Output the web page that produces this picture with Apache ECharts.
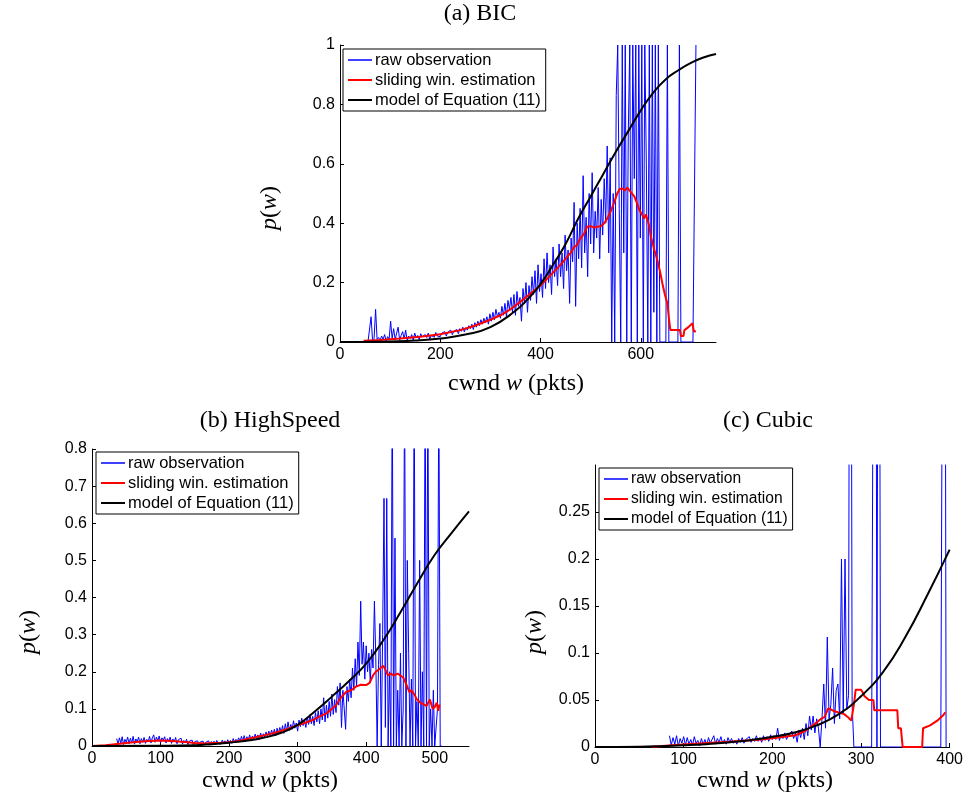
<!DOCTYPE html>
<html>
<head>
<meta charset="utf-8">
<script src="https://cdn.jsdelivr.net/npm/echarts@6/dist/echarts.min.js"></script>
<style>
  html, body { margin: 0; padding: 0; background: #fff; }
  #chart { width: 966px; height: 805px; }
</style>
</head>
<body>
<div id="chart"></div>
<script>
// ---------- (a) BIC ----------
// raw observation sampled every 3 packets starting at cwnd = 50
const bicRawStart = 50;
const bicRawStep = 3;
const bicRaw = [
  0.002,0.004,0.003,0.006,0.085,0.004,0.012,0.11,0.008,0.015,
  0.006,0.02,0.009,0.025,0.004,0.018,0.01,0.07,0.012,0.045,
  0.008,0.03,0.05,0.006,0.022,0.035,0.01,0.04,0.004,0.02,
  0.012,0.025,0.005,0.03,0.015,0.022,0.008,0.028,0.018,0.012,
  0.025,0.015,0.03,0.01,0.022,0.028,0.016,0.032,0.02,0.026,
  0.018,0.03,0.024,0.035,0.02,0.033,0.027,0.04,0.025,0.036,
  0.03,0.042,0.028,0.045,0.036,0.05,0.034,0.048,0.04,0.055,
  0.045,0.06,0.042,0.065,0.05,0.07,0.055,0.075,0.06,0.08,
  0.065,0.085,0.06,0.095,0.07,0.1,0.075,0.11,0.085,0.1,
  0.08,0.12,0.09,0.13,0.085,0.14,0.11,0.15,0.1,0.16,
  0.09,0.17,0.12,0.15,0.07,0.18,0.13,0.2,0.1,0.19,
  0.14,0.22,0.16,0.24,0.13,0.26,0.17,0.23,0.15,0.28,
  0.18,0.3,0.2,0.26,0.16,0.32,0.22,0.28,0.19,0.33,
  0.22,0.3,0.18,0.36,0.24,0.31,0.13,0.35,0.27,0.47,
  0.12,0.4,0.28,0.45,0.25,0.56,0.3,0.42,0.22,0.5,
  0.33,0.57,0.3,0.44,0.35,0.52,0.28,0.48,0.36,0.55,
  0.4,0.66,0.3,0.62,0,0.5,0,0.83,1,0.45,
  0,1,0.3,1,0,0.7,1,0,1,0.55,
  1,0,1,0.35,1,0,1,0.6,0,1,
  0,1,0.1,1,0,1,0,0,0,0,
  0,1,0,0,0,0,0,0,0,1,
  0,0,0,0,0,0,0,0,0,0,
  1
];
const bicWinX = [47,80,120,160,200,240,267,300,320,340,360,380,400,420,433,445,453,460,467,472,480,487,493,500,507,513,520,527,533,540,547,553,558,563,568,573,580,587,593,597,602,607,610,613,617,620,627,633,638,643,648,653,656,659,678,680,685,687,695,703,706,710];
const bicWinY = [0.004,0.007,0.012,0.018,0.026,0.04,0.054,0.075,0.09,0.11,0.136,0.163,0.19,0.225,0.248,0.27,0.287,0.3,0.32,0.325,0.35,0.365,0.388,0.39,0.385,0.388,0.39,0.4,0.416,0.44,0.47,0.5,0.515,0.517,0.51,0.52,0.505,0.49,0.465,0.445,0.43,0.416,0.43,0.425,0.39,0.355,0.31,0.276,0.24,0.198,0.16,0.13,0.08,0.04,0.04,0.02,0.02,0.04,0.05,0.063,0.035,0.036];
const bicModelX = [0,50,100,150,200,250,300,350,375,400,425,450,475,500,525,550,575,600,625,650,675,700,725,750];
const bicModelY = [0,0.0005,0.002,0.005,0.012,0.025,0.05,0.105,0.145,0.195,0.26,0.33,0.415,0.49,0.565,0.64,0.71,0.78,0.84,0.885,0.915,0.94,0.958,0.97];

// ---------- (b) HighSpeed ----------
const hsRawStart = 36;
const hsRawStep = 2;
const hsRaw = [
  0.02,0.005,0.022,0.008,0.025,0.004,0.018,0.01,0.024,0.006,
  0.021,0.008,0.026,0.005,0.019,0.012,0.024,0.006,0.02,0.01,
  0.023,0.007,0.018,0.012,0.026,0.008,0.022,0.03,0.01,0.024,
  0.014,0.027,0.009,0.022,0.016,0.025,0.008,0.02,0.012,0.024,
  0.007,0.019,0.011,0.023,0.006,0.017,0.012,0.021,0.005,0.015,
  0.009,0.018,0.004,0.013,0.008,0.016,0.003,0.012,0.007,0.014,
  0.004,0.011,0.006,0.013,0.003,0.01,0.005,0.014,0.004,0.012,
  0.006,0.013,0.004,0.015,0.007,0.012,0.005,0.016,0.008,0.014,
  0.006,0.017,0.009,0.015,0.007,0.02,0.01,0.018,0.012,0.022,
  0.012,0.026,0.014,0.028,0.013,0.025,0.016,0.03,0.015,0.027,
  0.018,0.032,0.02,0.03,0.017,0.035,0.022,0.033,0.024,0.038,
  0.026,0.04,0.028,0.043,0.03,0.045,0.027,0.048,0.033,0.05,
  0.036,0.055,0.034,0.06,0.04,0.065,0.042,0.058,0.045,0.068,
  0.048,0.062,0.04,0.07,0.052,0.075,0.055,0.068,0.05,0.078,
  0.058,0.085,0.06,0.08,0.055,0.09,0.065,0.095,0.06,0.1,
  0.07,0.13,0.065,0.11,0.075,0.12,0.08,0.14,0.085,0.125,
  0.09,0.16,0.11,0.17,0.05,0.15,0.1,0.045,0.16,0.12,
  0.18,0.13,0.21,0.15,0.235,0.16,0.28,0.19,0.39,0.22,
  0.28,0.18,0.27,0.2,0.25,0.17,0.26,0.21,0.39,0.24,
  0,0.22,0.33,0,0.3,0.667,0.05,0.667,0,0.2,
  0,1,0,0.56,0,0.15,0,0.25,0,0.1,
  1,0,0.5,0.25,0,0.18,0,1,0,0.12,
  0,0.5,0,0.2,0,1,0,1,0,0.1,
  0,0.15,0,0,0.1,1,0,0
];
const hsWinX = [0,20,40,60,78,97,110,126,140,150,165,176,190,198,212,225,240,254,265,273,285,298,310,322,332,342,350,356,362,368,371,378,385,392,400,405,410,414,418,422,425,428,432,436,440,446,450,454,459,463,466,471,474,476,480,483,488,493,497,500,503,505,507];
const hsWinY = [0,0.002,0.006,0.01,0.013,0.015,0.014,0.012,0.01,0.008,0.007,0.008,0.009,0.01,0.013,0.018,0.024,0.03,0.035,0.039,0.046,0.055,0.062,0.07,0.08,0.088,0.1,0.11,0.128,0.14,0.146,0.15,0.16,0.165,0.164,0.17,0.19,0.2,0.205,0.212,0.216,0.205,0.19,0.195,0.19,0.195,0.19,0.185,0.164,0.145,0.15,0.137,0.125,0.12,0.115,0.113,0.108,0.125,0.1,0.105,0.117,0.095,0.112];
const hsModelX = [0,100,150,175,200,225,250,275,300,325,350,375,400,425,450,475,500,525,550];
const hsModelY = [0,0.0005,0.002,0.005,0.009,0.014,0.022,0.035,0.057,0.093,0.133,0.175,0.222,0.285,0.36,0.44,0.515,0.575,0.632];

// ---------- (c) Cubic ----------
const cuRawStart = 84;
const cuRawStep = 2;
const cuRaw = [
  0.012,0.002,0.01,0.003,0.012,0.001,0.009,0.004,0.011,0.002,
  0.01,0.003,0.008,0.002,0.011,0.004,0.007,0.001,0.009,0.003,
  0.008,0.002,0.01,0.004,0.006,0.012,0.003,0.009,0.005,0.011,
  0.004,0.008,0.003,0.01,0.005,0.009,0.004,0.007,0.003,0.009,
  0.005,0.01,0.004,0.008,0.006,0.011,0.005,0.009,0.006,0.012,
  0.006,0.01,0.005,0.012,0.007,0.011,0.006,0.013,0.008,0.012,
  0.008,0.02,0.007,0.013,0.009,0.015,0.008,0.012,0.01,0.017,
  0.009,0.015,0.005,0.018,0.01,0.02,0.008,0.025,0.012,0.033,
  0.018,0.033,0.015,0.03,0.02,0,0.03,0.067,0.02,0.117,
  0.03,0.045,0.084,0.025,0.06,0.067,0.03,0.2,0.035,0.2,
  0.04,0.055,1,0.045,0,0,0,0,0,0,
  0,0,0,0,0,0,1,0,1,0,
  0,0,0,0,0,0,0,0,0,0,
  0,0,0,0,0,0,0,0,0,0,
  0,0,0,0,0,0,0,0,0,0,
  0,0,0,0,0,1,0
];
const cuWinX = [64,83,113,151,188,207,226,237,244,250,255,259,263,266,270,274,281,285,289,290,292,294,300,302,304,309,314,315,341,342,345,347,369,370,378,386,393,395];
const cuWinY = [0,0.0015,0.0035,0.0055,0.008,0.01,0.0125,0.017,0.022,0.026,0.03,0.032,0.041,0.04,0.038,0.037,0.035,0.032,0.028,0.026,0.045,0.061,0.061,0.058,0.054,0.05,0.05,0.039,0.039,0.02,0.02,0,0,0.02,0.023,0.028,0.034,0.037];
const cuModelX = [0,50,75,100,125,150,175,200,225,250,275,300,325,350,375,400];
const cuModelY = [0,0.0003,0.0009,0.0018,0.003,0.0048,0.0073,0.0108,0.0155,0.023,0.035,0.054,0.08,0.117,0.162,0.21];

const seriesNames = ['raw observation', 'sliding win. estimation', 'model of Equation (11)'];
// legend swatches: a thinner line for the raw trace, a thicker one for the others
const legendIcons = ['path://M0,0h32v2h-32z', 'path://M0,0h24v2h-24z', 'path://M0,0h24v2h-24z'];

function regularPairs(start, step, values) {
  return values.map((v, i) => [start + i * step, v]);
}
function zipPairs(xs, ys) {
  return xs.map((x, i) => [x, ys[i]]);
}

const panels = [
  { grid: { left: 340, top: 45, width: 376, height: 297 },
    xMax: 750, xTicks: [0, 200, 400, 600], yMax: 1, yTicks: [0, 0.2, 0.4, 0.6, 0.8, 1],
    raw: regularPairs(bicRawStart, bicRawStep, bicRaw),
    win: zipPairs(bicWinX, bicWinY), model: zipPairs(bicModelX, bicModelY),
    legend: { left: 343, top: 49, fontSize: 16.5 } },
  { grid: { left: 92, top: 449, width: 377, height: 297 },
    xMax: 550, xTicks: [0, 100, 200, 300, 400, 500], yMax: 0.8, yTicks: [0, 0.1, 0.2, 0.3, 0.4, 0.5, 0.6, 0.7, 0.8],
    raw: regularPairs(hsRawStart, hsRawStep, hsRaw),
    win: zipPairs(hsWinX, hsWinY), model: zipPairs(hsModelX, hsModelY),
    legend: { left: 96, top: 452, fontSize: 16.5 } },
  { grid: { left: 595, top: 465, width: 358, height: 282 },
    xMax: 400, xTicks: [0, 100, 200, 300, 400], yMax: 0.3, yTicks: [0, 0.05, 0.1, 0.15, 0.2, 0.25],
    raw: regularPairs(cuRawStart, cuRawStep, cuRaw),
    win: zipPairs(cuWinX, cuWinY), model: zipPairs(cuModelX, cuModelY),
    legend: { left: 599, top: 468, fontSize: 15.6 } }
];

const tickFont = { fontFamily: 'Liberation Sans', fontSize: 16, color: '#000' };
const axisLine = { show: true, onZero: false, lineStyle: { color: '#000', width: 1 } };

const option = {
  animation: false,
  backgroundColor: '#fff',
  grid: panels.map(p => Object.assign({ containLabel: false }, p.grid)),
  xAxis: panels.map((p, i) => ({
    type: 'value', gridIndex: i, min: 0, max: p.xMax,
    axisLine: axisLine,
    axisTick: { show: true, inside: true, length: 4, customValues: p.xTicks, lineStyle: { color: '#000' } },
    axisLabel: Object.assign({ margin: 5, customValues: p.xTicks }, tickFont),
    splitLine: { show: false }
  })),
  yAxis: panels.map((p, i) => ({
    type: 'value', gridIndex: i, min: 0, max: p.yMax,
    axisLine: axisLine,
    axisTick: { show: true, inside: true, length: 4, customValues: p.yTicks, lineStyle: { color: '#000' } },
    axisLabel: Object.assign({ margin: 5, customValues: p.yTicks }, tickFont),
    splitLine: { show: false }
  })),
  legend: panels.map(p => ({
    data: seriesNames.map((n, k) => ({ name: n, icon: legendIcons[k] })),
    orient: 'vertical', left: p.legend.left, top: p.legend.top,
    itemWidth: 24, itemHeight: 2, itemGap: 0, symbolKeepAspect: true,
    padding: [1, 5, 1, 5],
    borderColor: '#000', borderWidth: 1, borderRadius: 0, backgroundColor: '#fff',
    selectedMode: false,
    textStyle: { fontFamily: 'Liberation Sans', fontSize: p.legend.fontSize, color: '#000', lineHeight: 20, padding: [0, 0, 0, -2] }
  })),
  series: [].concat(...panels.map((p, i) => [
    { name: seriesNames[0], type: 'line', xAxisIndex: i, yAxisIndex: i, data: p.raw,
      symbol: 'none', clip: true, lineStyle: { color: '#0000ff', width: 1 }, itemStyle: { color: '#0000ff' }, z: 2 },
    { name: seriesNames[1], type: 'line', xAxisIndex: i, yAxisIndex: i, data: p.win,
      symbol: 'none', clip: true, lineStyle: { color: '#ff0000', width: 2 }, itemStyle: { color: '#ff0000' }, z: 3 },
    { name: seriesNames[2], type: 'line', xAxisIndex: i, yAxisIndex: i, data: p.model,
      symbol: 'none', smooth: true, clip: true, lineStyle: { color: '#000', width: 2 }, itemStyle: { color: '#000' }, z: 4 }
  ])),
  graphic: []
};

// titles and axis names (serif, with italic variables)
const serif = 'Liberation Serif';
const rich = {
  n: { fontFamily: serif, fontSize: 24, color: '#000' },
  i: { fontFamily: serif, fontSize: 24, fontStyle: 'italic', color: '#000' }
};
function label(x, y, text, rotation) {
  return {
    type: 'text', x: x, y: y, rotation: rotation || 0, z: 10,
    style: { text: text, rich: rich, align: 'center', verticalAlign: 'middle', fontFamily: serif, fontSize: 24, fill: '#000' }
  };
}
option.graphic = [
  label(480, 14, '{n|(a) BIC}'),
  label(516, 384, '{n|cwnd }{i|w}{n| (pkts)}'),
  label(270, 208, '{i|p}{n|(}{i|w}{n|)}', Math.PI / 2),
  label(270, 421, '{n|(b) HighSpeed}'),
  label(270, 781, '{n|cwnd }{i|w}{n| (pkts)}'),
  label(29, 632, '{i|p}{n|(}{i|w}{n|)}', Math.PI / 2),
  label(768, 421, '{n|(c) Cubic}'),
  label(765, 781, '{n|cwnd }{i|w}{n| (pkts)}'),
  label(535, 632, '{i|p}{n|(}{i|w}{n|)}', Math.PI / 2)
];

const chart = echarts.init(document.getElementById('chart'), null, { renderer: 'canvas' });
chart.setOption(option);
</script>
</body>
</html>
